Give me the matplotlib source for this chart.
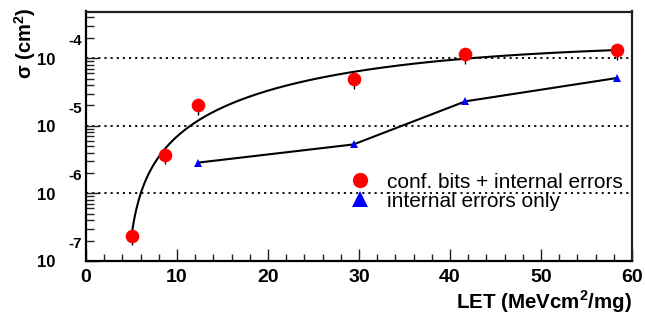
import numpy as np
import matplotlib
matplotlib.use('Agg')
import matplotlib.pyplot as plt
from matplotlib.lines import Line2D
from matplotlib.ticker import LogLocator, MultipleLocator, NullFormatter, FixedLocator

# ---------------- data ----------------
let_conf = [5.0, 8.65, 12.3, 29.4, 41.7, 58.4]
sigma_conf = [2.37e-7, 3.7e-6, 2.0e-5, 4.95e-5, 1.135e-4, 1.31e-4]
sigma_conf_err_lo = [0.65e-7, 1.0e-6, 0.55e-5, 1.4e-5, 0.32e-4, 0.37e-4]

let_int = [12.3, 29.4, 41.7, 58.4]
sigma_int = [2.85e-6, 5.3e-6, 2.3e-5, 5.1e-5]

# Weibull fit of the "conf. bits + internal errors" cross section
fit_sat, fit_l0, fit_w, fit_s = 1.6e-4, 4.3, 38.5, 1.63
fit_range = (5.0, 58.4)

x_ticks = [0, 10, 20, 30, 40, 50, 60]
x_tick_labels = ['0', '10', '20', '30', '40', '50', '60']
y_decades = [-7, -6, -5, -4]
y_limits = (1e-7, 4.9e-4)
legend_labels = ['conf. bits + internal errors', 'internal errors only']
x_title = r'LET (MeVcm$^{\mathbf{2}}$/mg)'
y_title = r'σ (cm$^{\mathbf{2}}$)'

# ---------------- style ----------------
plt.rcParams['font.family'] = ['Liberation Sans', 'DejaVu Sans']
plt.rcParams['mathtext.fontset'] = 'custom'
plt.rcParams['mathtext.rm'] = 'Liberation Sans'
plt.rcParams['mathtext.bf'] = 'Liberation Sans:bold'

W, H = 645, 320
fig = plt.figure(figsize=(W / 100, H / 100), dpi=100)
ax = fig.add_axes([86 / W, (H - 261) / H, 546 / W, 249.5 / H])

# fit curve
xf = np.linspace(fit_range[0], fit_range[1], 400)
yf = fit_sat * (1 - np.exp(-((xf - fit_l0) / fit_w) ** fit_s))
ax.plot(xf, yf, color='black', lw=1.5, zorder=3)

# internal errors only
ax.plot(let_int, sigma_int, color='black', lw=1.5, zorder=3)
ax.plot(let_int, sigma_int, ls='none', marker='^', ms=5.5, color='#0000ff',
        markeredgewidth=0, zorder=5)

# conf bits + internal errors
ax.errorbar(let_conf, sigma_conf, yerr=[sigma_conf_err_lo, [0] * len(sigma_conf)],
            fmt='none', ecolor='black', elinewidth=1.0, capsize=0, zorder=4)
ax.plot(let_conf, sigma_conf, ls='none', marker='o', ms=9.8, color='#ff0000',
        markeredgewidth=0, zorder=6)

ax.set_yscale('log')
ax.set_xlim(0, 60)
ax.set_ylim(*y_limits)

# ticks
ax.xaxis.set_major_locator(FixedLocator(x_ticks))
ax.set_xticklabels(x_tick_labels)
ax.xaxis.set_minor_locator(MultipleLocator(2))
ax.yaxis.set_major_locator(FixedLocator([10.0 ** d for d in y_decades]))
ax.yaxis.set_minor_locator(LogLocator(base=10, subs=np.arange(2, 10)))
ax.yaxis.set_major_formatter(NullFormatter())
ax.yaxis.set_minor_formatter(NullFormatter())

ax.tick_params(axis='both', which='both', direction='in', top=False, right=False,
               color='#222222')
ax.tick_params(axis='x', which='major', length=9, width=1.0, pad=6, labelsize=14)
ax.tick_params(axis='x', which='minor', length=5, width=1.0)
ax.tick_params(axis='y', which='major', length=9, width=1.0)
ax.tick_params(axis='y', which='minor', length=5.5, width=1.0)
for lab in ax.get_xticklabels():
    lab.set_fontweight('bold')

# grid at decades
ax.yaxis.grid(True, which='major', linestyle=(0, (1.2, 2.2)), color='black', lw=1.3)
ax.xaxis.grid(False)

for sp in ax.spines.values():
    sp.set_linewidth(1.6)
    sp.set_color('#222222')
ax.spines['left'].set_color('black')
ax.spines['bottom'].set_color('black')

# y tick labels in ROOT style (10 with raised exponent)
for d in y_decades:
    ax.annotate('10', xy=(0, 10.0 ** d), xycoords=('axes fraction', 'data'),
                xytext=(-31, -2), textcoords='offset pixels', ha='right', va='center',
                fontsize=12, fontweight='bold', annotation_clip=False)
    ax.annotate(f'{d}', xy=(0, 10.0 ** d), xycoords=('axes fraction', 'data'),
                xytext=(-4, 17), textcoords='offset pixels', ha='right', va='center',
                fontsize=11, fontweight='bold', annotation_clip=False)

# axis titles
fig.text(632 / W, 1 - 309 / H, x_title, ha='right', va='baseline',
         fontsize=14.8, fontweight='bold')
fig.text(25 / W, 1 - 8 / H, y_title, ha='center', va='top', rotation=90,
         fontsize=14.5, fontweight='bold')

# legend
handles = [Line2D([], [], ls='none', marker='o', ms=11, color='#ff0000', markeredgewidth=0),
           Line2D([], [], ls='none', marker='^', ms=11, color='#0000ff', markeredgewidth=0)]
ax.legend(handles, legend_labels, loc='center left', bbox_to_anchor=(0.4866, 0.2778),
          frameon=False, fontsize=15, handlelength=0.8, handletextpad=0.9,
          borderpad=0, borderaxespad=0, labelspacing=0.0)

fig.savefig('out.png', dpi=100)
